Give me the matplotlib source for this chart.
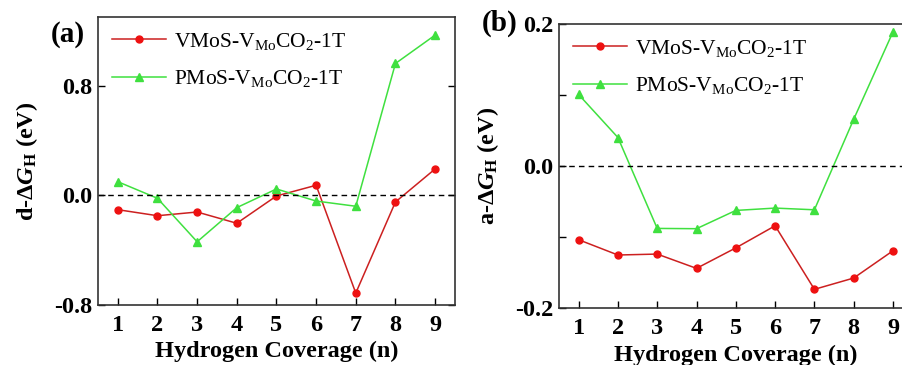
import numpy as np
import matplotlib
matplotlib.use("Agg")
import matplotlib.pyplot as plt
from matplotlib.ticker import MultipleLocator

plt.rcParams['font.family'] = ['Liberation Serif', 'DejaVu Serif']
plt.rcParams['mathtext.fontset'] = 'custom'
plt.rcParams['mathtext.rm'] = 'Liberation Serif'
plt.rcParams['mathtext.it'] = 'Liberation Serif:italic:bold'
plt.rcParams['mathtext.bf'] = 'Liberation Serif:bold'

# hydrogen coverage and free energies (eV)
coverage = [1, 2, 3, 4, 5, 6, 7, 8, 9]
d_vmos = [-0.105, -0.149, -0.122, -0.204, -0.005, 0.073, -0.713, -0.049, 0.192]
d_pmos = [0.099, -0.022, -0.339, -0.090, 0.046, -0.042, -0.080, 0.961, 1.168]
a_vmos = [-0.1035, -0.125, -0.1237, -0.1438, -0.115, -0.0839, -0.1733, -0.1574, -0.119]
a_pmos = [0.1008, 0.0403, -0.0876, -0.088, -0.0623, -0.059, -0.0614, 0.066, 0.189]

label_v = r'VMoS-V$_{\mathrm{Mo}}$CO$_{\mathrm{2}}$-1T'
label_p = r'PMoS-V$_{\mathrm{Mo}}$CO$_{\mathrm{2}}$-1T'

red_line = '#cc2020'
red_mark = '#ee1111'
green = '#3fe03f'


def draw_panel(ax, vmos, pmos, ylim, major, minor, ylabel):
    ax.plot(coverage, vmos, '-', color=red_line, lw=1.1, marker='o',
            ms=5, mfc=red_mark, mec=red_mark, label=label_v)
    ax.plot(coverage, pmos, '-', color=green, lw=1.1, marker='^',
            ms=5.5, mfc=green, mec=green, label=label_p)
    ax.axhline(0, color='black', ls=(0, (4, 3)), lw=1.0)

    ax.set_xlim(0.5, 9.5)
    ax.set_ylim(*ylim)
    ax.xaxis.set_major_locator(MultipleLocator(1))
    ax.yaxis.set_major_locator(MultipleLocator(major))
    if minor:
        ax.yaxis.set_minor_locator(MultipleLocator(minor))
    ax.yaxis.set_major_formatter(plt.FormatStrFormatter('%.1f'))

    ax.tick_params(axis='both', which='both', direction='in', labelsize=17.5,
                   top=False, right=True, length=5, width=1.0, pad=7)
    ax.tick_params(axis='y', which='major', pad=4)
    for lab in ax.get_xticklabels() + ax.get_yticklabels():
        lab.set_fontweight('bold')
    for sp in ax.spines.values():
        sp.set_color('#333333')
        sp.set_linewidth(1.2)

    ax.set_xlabel('Hydrogen Coverage (n)', fontsize=17.5, fontweight='bold', labelpad=4)
    ax.set_ylabel(ylabel, fontsize=17.5, fontweight='bold', labelpad=10)

    ax.legend(loc='upper left', frameon=False, fontsize=15.5, handlelength=2.5,
              handletextpad=0.4, labelspacing=0.75, borderaxespad=0.3,
              borderpad=0.35)


fig = plt.figure(figsize=(9.03, 3.65), dpi=100)
ax1 = fig.add_axes([0.1085, 0.1644, 0.3953, 0.789])
ax2 = fig.add_axes([0.619, 0.1553, 0.3917, 0.779])

draw_panel(ax1, d_vmos, d_pmos, (-0.8, 1.3), 0.8, None,
           r'd-Δ$\mathit{G}_{\mathbf{H}}$ (eV)')
draw_panel(ax2, a_vmos, a_pmos, (-0.2, 0.2), 0.2, 0.1,
           r'a-Δ$\mathit{G}_{\mathbf{H}}$ (eV)')

fig.text(0.056, 0.905, '(a)', fontsize=21, fontweight='bold', va='center')
fig.text(0.533, 0.935, '(b)', fontsize=21, fontweight='bold', va='center')

fig.savefig('out.png', dpi=100)
